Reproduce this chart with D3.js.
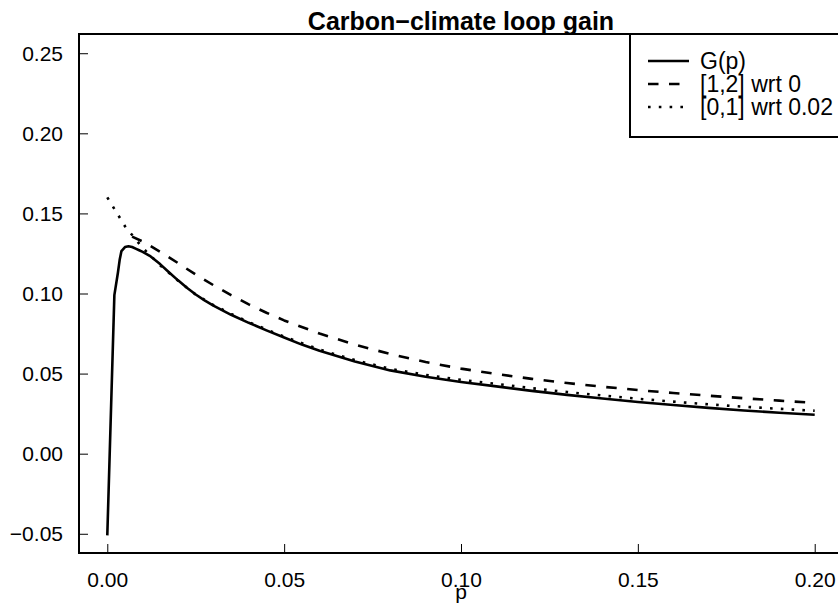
<!DOCTYPE html>
<html>
<head>
<meta charset="utf-8">
<script src="https://cdn.jsdelivr.net/npm/d3@7"></script>
<style>
  body { margin: 0; background: #fff; }
  svg { display: block; font-family: "Liberation Sans", Arial, Helvetica, sans-serif; }
</style>
</head>
<body>
<div id="chart"></div>
<script>
// G(p) - the loop gain itself
const pG = [0, 0.002, 0.003, 0.0035, 0.004, 0.005, 0.006, 0.007, 0.008, 0.009, 0.010, 0.012, 0.015,
  0.0175, 0.020, 0.0225, 0.025, 0.0275, 0.030, 0.035, 0.040, 0.045, 0.050, 0.055, 0.060, 0.070, 0.080, 0.090, 0.100,
  0.110, 0.120, 0.130, 0.140, 0.150, 0.160, 0.170, 0.180, 0.190, 0.200];
const gValues = [-0.051, 0.099, 0.113, 0.121, 0.1265, 0.129, 0.1295, 0.129, 0.128, 0.127, 0.126, 0.1235, 0.1182,
  0.1131, 0.1082, 0.1036, 0.0994, 0.0957, 0.0924, 0.0867, 0.0817, 0.0770, 0.0725, 0.0681, 0.0642, 0.0576, 0.0520, 0.0480, 0.0448,
  0.0420, 0.0392, 0.0367, 0.0344, 0.0323, 0.0304, 0.0286, 0.0270, 0.0256, 0.0243];

// [1,2] approximant wrt 0 (dashed)
const pDash = [0.007, 0.010, 0.015, 0.020, 0.025, 0.030, 0.035, 0.040, 0.045, 0.050, 0.060, 0.070,
  0.080, 0.090, 0.100, 0.110, 0.120, 0.130, 0.140, 0.150, 0.160, 0.170, 0.180, 0.190, 0.200];
const dashValues = [0.1355, 0.1325, 0.126, 0.119, 0.1118, 0.1052, 0.0990, 0.0932, 0.0880, 0.0832, 0.0750, 0.0681,
  0.0622, 0.0572, 0.0531, 0.0497, 0.0467, 0.0441, 0.0418, 0.0397, 0.0379, 0.0362, 0.0346, 0.0331, 0.0317];

// [0,1] approximant wrt 0.02 (dotted)
const pDot = [0, 0.005, 0.010, 0.015, 0.020, 0.025, 0.030, 0.035, 0.040, 0.045, 0.050, 0.060, 0.070,
  0.080, 0.090, 0.100, 0.110, 0.120, 0.130, 0.140, 0.150, 0.160, 0.170, 0.180, 0.190, 0.200];
const dotValues = [0.160, 0.142, 0.1285, 0.1175, 0.108, 0.0993, 0.0928, 0.0873, 0.0822, 0.0775, 0.0731, 0.0650, 0.0584,
  0.0530, 0.0492, 0.0461, 0.0436, 0.0409, 0.0385, 0.0363, 0.0343, 0.0325, 0.0308, 0.0293, 0.0280, 0.0268];

const xTicks = [0, 0.05, 0.10, 0.15, 0.20];
const yTicks = [-0.05, 0, 0.05, 0.10, 0.15, 0.20, 0.25];
const legendLabels = ['G(p)', '[1,2] wrt 0', '[0,1] wrt 0.02'];
const legendDash = [null, '10.5,10.5', '2.6,8.2'];

const width = 838, height = 603;
const plot = { left: 79, right: 843, top: 34, bottom: 553 };

const svg = d3.select('#chart').append('svg')
  .attr('width', width)
  .attr('height', height);

// R-style 4% padding around xlim = c(0, 0.2), ylim = c(-0.05, 0.25)
const x = d3.scaleLinear().domain([-0.008, 0.208]).range([plot.left, plot.right]);
const y = d3.scaleLinear().domain([-0.062, 0.262]).range([plot.bottom, plot.top]);

const fmt = d3.format('.2f');

// axes with inward ticks
const xAxis = svg.append('g')
  .attr('transform', `translate(0,${plot.bottom})`)
  .call(d3.axisBottom(x).tickValues(xTicks).tickFormat(fmt).tickSizeInner(-9).tickSizeOuter(0));
const yAxis = svg.append('g')
  .attr('transform', `translate(${plot.left},0)`)
  .call(d3.axisLeft(y).tickValues(yTicks).tickFormat(fmt).tickSizeInner(-9).tickSizeOuter(0).tickPadding(16));

[xAxis, yAxis].forEach(g => {
  g.select('.domain').remove();
  g.selectAll('.tick line').attr('stroke', '#000').attr('stroke-width', 1);
  g.selectAll('.tick text')
    .attr('fill', '#000')
    .attr('font-size', 21)
    .attr('font-family', '"Liberation Sans", Arial, sans-serif');
});
xAxis.selectAll('.tick text').attr('y', 34).attr('dy', null);
yAxis.selectAll('.tick text').attr('dy', '0.34em');

// box
svg.append('rect')
  .attr('x', plot.left).attr('y', plot.top)
  .attr('width', plot.right - plot.left).attr('height', plot.bottom - plot.top)
  .attr('fill', 'none').attr('stroke', '#000').attr('stroke-width', 2);

const line = d3.line()
  .x(d => x(d[0]))
  .y(d => y(d[1]));

const series = [
  { p: pG, v: gValues, dash: null },
  { p: pDash, v: dashValues, dash: legendDash[1] },
  { p: pDot, v: dotValues, dash: legendDash[2] }
];

svg.append('g').selectAll('path').data(series)
  .enter().append('path')
    .attr('d', s => line(s.p.map((p, i) => [p, s.v[i]])))
    .attr('fill', 'none')
    .attr('stroke', '#000')
    .attr('stroke-width', 2.6)
    .attr('stroke-linejoin', 'round')
    .attr('stroke-dasharray', s => s.dash);

// title and axis label
svg.append('text')
  .attr('x', (plot.left + plot.right) / 2)
  .attr('y', 30)
  .attr('text-anchor', 'middle')
  .attr('font-size', 25)
  .attr('font-weight', 'bold')
  .text('Carbon\u2212climate loop gain');

svg.append('text')
  .attr('x', x(0.10))
  .attr('y', 599)
  .attr('text-anchor', 'middle')
  .attr('font-size', 21)
  .text('p');

// legend in the top right corner
const legend = svg.append('g');
legend.append('rect')
  .attr('x', 630).attr('y', plot.top)
  .attr('width', plot.right - 630).attr('height', 103)
  .attr('fill', '#fff').attr('stroke', '#000').attr('stroke-width', 2);

const rows = legend.selectAll('.row').data(legendLabels)
  .enter().append('g')
    .attr('class', 'row')
    .attr('transform', (d, i) => `translate(0,${61 + i * 23})`);

rows.append('line')
  .attr('x1', 648).attr('x2', 689)
  .attr('stroke', '#000')
  .attr('stroke-width', 2.6)
  .attr('stroke-dasharray', (d, i) => legendDash[i]);

rows.append('text')
  .attr('x', 700)
  .attr('y', 8)
  .attr('font-size', 23)
  .text(d => d);
</script>
</body>
</html>
